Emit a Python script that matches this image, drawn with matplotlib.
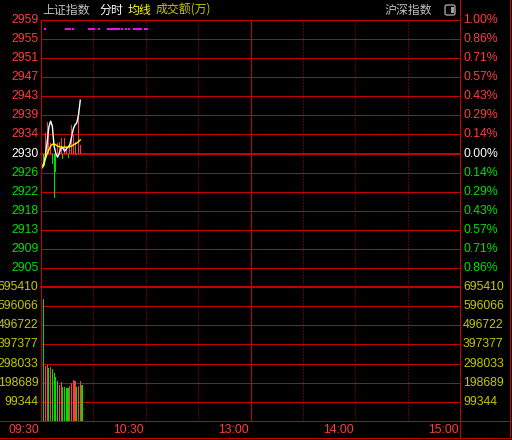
import numpy as np
import matplotlib
matplotlib.use("Agg")
import matplotlib.pyplot as plt
import matplotlib.transforms as mtransforms
from matplotlib.lines import Line2D
from matplotlib.patches import FancyBboxPatch, Rectangle

plt.rcParams['font.family'] = ['Liberation Sans', 'Noto Sans CJK SC', 'DejaVu Sans']

W, H = 512, 440
pre_close = 2930.0

# minute data, 09:30 onwards
price = [2927.5, 2927.4, 2929.5, 2932.5, 2935.8, 2937.1, 2936.0, 2931.6, 2930.0, 2929.2,
         2930.1, 2931.2, 2931.2, 2930.5, 2931.0, 2931.4, 2931.9, 2933.6, 2935.4, 2936.3,
         2936.7, 2938.5, 2941.7]
avg_price = [2926.8, 2927.3, 2928.8, 2929.9, 2930.8, 2931.6, 2932.0, 2932.1, 2931.9, 2931.6,
             2931.5, 2931.4, 2931.4, 2931.4, 2931.4, 2931.4, 2931.5, 2931.6, 2931.9, 2932.1,
             2932.3, 2932.6, 2933.0]
strength = [-1.3, -2.9, 4.4, 7.0, 5.5, 2.2, -2.2, -9.7, -4.0, 2.2,
            2.6, 3.5, -1.1, 3.3, 1.3, -0.9, 1.8, 6.2, 4.0, 2.6,
            -0.4, 9.4, 1.8]
volume = [634500, 286000, 288700, 275700, 280900, 270500, 249600, 228800, 208000, 187200,
          202800, 176800, 176800, 171600, 171600, 182000, 197600, 213200, 208000, 176800,
          182000, 208000, 187200]
vol_up = [0, 1, 1, 0, 1, 0, 0, 0, 0, 1, 1, 0, 0, 0, 0, 1, 1, 1, 1, 0, 1, 1, 0]
signal_minutes = [2, 14, 15, 16, 18, 27, 28, 29, 30, 33, 38, 39, 40, 41, 42, 43, 44,
                  46, 48, 50, 53, 54, 55, 56, 57, 59, 60]
signal_level = 2957.4

price_labels = ['2959', '2955', '2951', '2947', '2943', '2939', '2934', '2930',
                '2926', '2922', '2918', '2913', '2909', '2905']
pct_labels = ['1.00%', '0.86%', '0.71%', '0.57%', '0.43%', '0.29%', '0.14%', '0.00%',
              '0.14%', '0.29%', '0.43%', '0.57%', '0.71%', '0.86%']
vol_labels = ['695410', '596066', '496722', '397377', '298033', '198689', '99344']
vol_max = 695410
time_labels = ['09:30', '10:30', '13:00', '14:00', '15:00']
time_ticks = [0, 60, 120, 180, 240]

RED = '#ff3c3c'
GREEN = '#00e000'
GRID = '#c40000'
YEL = '#c8c800'


def fx(px):
    return px / W


def fy(py):
    return 1 - py / H


fig = plt.figure(figsize=(W / 100, H / 100), dpi=100, facecolor='black')
ax = fig.add_axes([fx(41), fy(287), fx(460) - fx(41), fy(20) - fy(287)])
axv = fig.add_axes([fx(41), fy(421), fx(460) - fx(41), fy(287) - fy(421)], sharex=ax)
for a in (ax, axv):
    a.set_facecolor('black')
    a.set_axis_off()
ax.set_xlim(0, 240)
ax.set_ylim(pre_close * 0.99, pre_close * 1.01)
axv.set_ylim(0, vol_max)

px_lw = 0.72
levels = [pre_close * (1 + k / 700) for k in range(7, -7, -1)]
for k, lv in zip(range(7, -7, -1), levels):
    ax.axhline(lv, color=GRID, lw=px_lw * (2 if k == 0 else 1), clip_on=False, zorder=1)
ax.axhline(pre_close * 0.99, color=GRID, lw=px_lw * 2, clip_on=False, zorder=1)
for i in range(1, 7):
    axv.axhline(vol_max * i / 7, color=GRID, lw=px_lw, zorder=1)

for a in (ax, axv):
    for m in [30, 60, 90, 150, 180, 210]:
        a.axvline(m, color=GRID, lw=px_lw, ls=(0, (1, 2)), zorder=1)
    a.axvline(120, color=GRID, lw=px_lw, zorder=1)

# frame lines
frame = [((41, 41), (20, 421)), ((460, 460), (0, 438)), ((510, 510), (0, 438)),
         ((0, 510), (421, 421)), ((0, 510), (438, 438))]
for xs, ys in frame:
    fig.add_artist(Line2D([fx(v) for v in xs], [fy(v) for v in ys], color=GRID, lw=px_lw))

x_price = np.arange(len(price)) + 0.5
x_vol = np.arange(len(volume)) + 1.5

s_col = [RED if v > 0 else GREEN for v in strength]
ax.bar(x_price, strength, bottom=pre_close, width=0.6, color=s_col, lw=0, zorder=2,
       antialiased=False)
ax.plot(x_price, price, color='white', lw=1.0, zorder=3)
ax.plot(x_price, avg_price, color='#ffff00', lw=1.0, zorder=4)
ax.scatter(np.array(signal_minutes) + 0.5, [signal_level] * len(signal_minutes),
           marker='s', s=2.2, color='#ff00ff', lw=0, zorder=4)

v_col = [RED if u else GREEN for u in vol_up]
axv.bar(x_vol, volume, width=0.65, color=v_col, lw=0, zorder=2, antialiased=False)

# axis labels
tl = mtransforms.blended_transform_factory(fig.transFigure, ax.transData)
tv = mtransforms.blended_transform_factory(fig.transFigure, axv.transData)
for i, (lv, pl, pc) in enumerate(zip(levels, price_labels, pct_labels)):
    col = RED if i < 7 else ('white' if i == 7 else GREEN)
    ax.text(fx(38.5), lv, pl, transform=tl, ha='right', va='center', color=col, fontsize=8.8)
    ax.text(fx(463), lv, pc, transform=tl, ha='left', va='center', color=col, fontsize=8.8)
for i, vl in enumerate(vol_labels):
    lv = vol_max * (7 - i) / 7
    axv.text(fx(38.5), lv, vl, transform=tv, ha='right', va='center', color=YEL, fontsize=8.8)
    axv.text(fx(463), lv, vl, transform=tv, ha='left', va='center', color=YEL, fontsize=8.8)

tt = mtransforms.blended_transform_factory(axv.transData, fig.transFigure)
for t, lab in zip(time_ticks, time_labels):
    axv.text(t - 0.9, fy(430), lab, transform=tt, ha='right', va='center', color=RED,
             fontsize=8.8)

# header
cjk = ['Noto Sans CJK SC', 'DejaVu Sans']
fig.text(fx(42), fy(10), '上证指数', color='#c0c0c0', fontsize=8.6, family=cjk, va='center')
fig.text(fx(100), fy(10), '分时', color='white', fontsize=8.6, family=cjk, va='center')
fig.text(fx(128), fy(10), '均线', color='#ffff00', fontsize=8.6, family=cjk, va='center')
fig.text(fx(156), fy(10), '成交额(万)', color=YEL, fontsize=8.6, family=cjk, va='center')
fig.text(fx(385), fy(10), '沪深指数', color='#c0c0c0', fontsize=8.6, family=cjk, va='center')

icon = FancyBboxPatch((fx(445), fy(15)), fx(10), fy(5) - fy(15),
                      boxstyle='round,pad=0,rounding_size=0.004', transform=fig.transFigure,
                      facecolor='black', edgecolor='#a0a0a0', lw=1.0)
fig.add_artist(icon)
fig.add_artist(Rectangle((fx(450.5), fy(13)), fx(3), fy(7) - fy(13), transform=fig.transFigure,
                         facecolor='#a0a0a0', lw=0))

fig.savefig('out.png', dpi=100, facecolor='black')
